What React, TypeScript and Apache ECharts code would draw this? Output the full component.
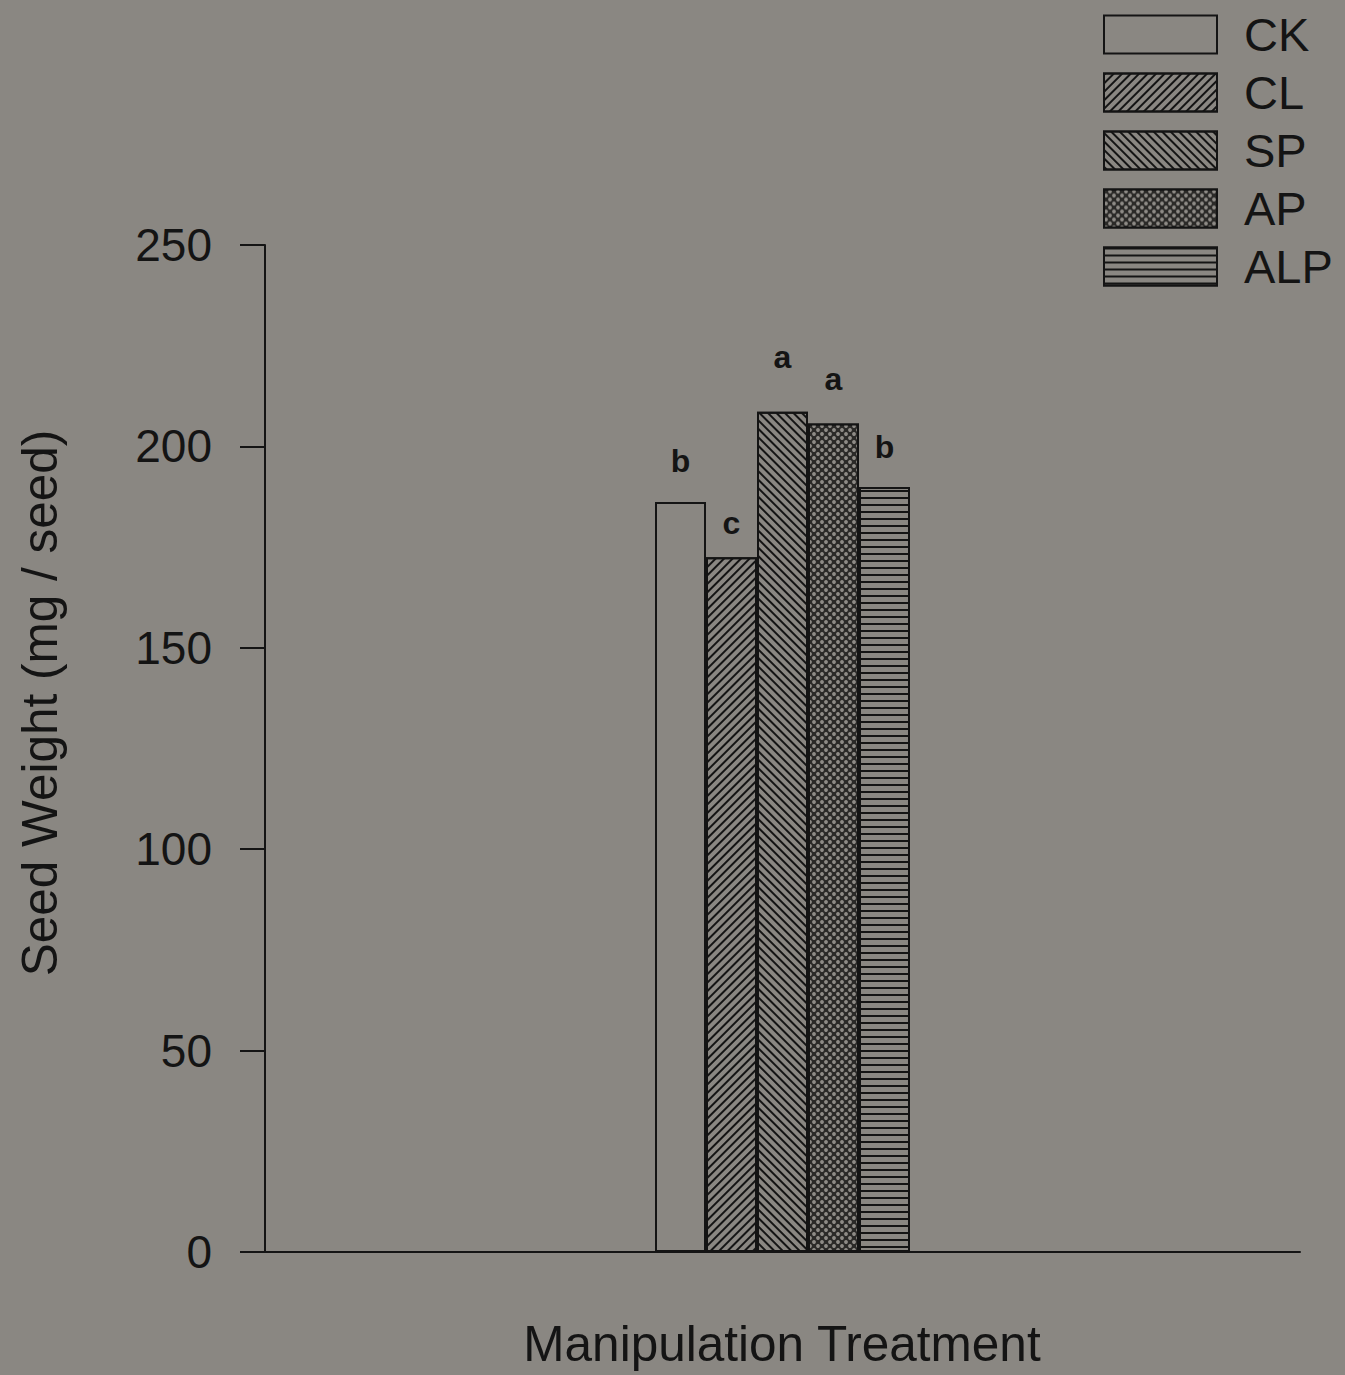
import React, { useEffect, useRef } from "react";
import * as echarts from "echarts";

// Seed weight (mg / seed) per manipulation treatment
const treatments = ["CK", "CL", "SP", "AP", "ALP"];
const seedWeight = [186.2, 172.5, 208.6, 205.7, 189.9];
const significance = ["b", "c", "a", "a", "b"];
const yTicks = { min: 0, max: 250, interval: 50 };

const PAPER = "#8a8782";
const INK = "#141414";
const FONT = "'Liberation Sans', Arial, Helvetica, sans-serif";

// Hatch patterns for each treatment
const fills: Record<string, { color: string; decal?: any; labelGap: number }> = {
  CK: { color: PAPER, labelGap: 25 },
  CL: {
    color: PAPER,
    labelGap: 18,
    decal: {
      symbol: "rect",
      symbolSize: 1,
      color: INK,
      dashArrayX: [1, 0],
      dashArrayY: [2, 3.4],
      rotation: -Math.PI / 4,
    },
  },
  SP: {
    color: PAPER,
    labelGap: 39,
    decal: {
      symbol: "rect",
      symbolSize: 1,
      color: INK,
      dashArrayX: [1, 0],
      dashArrayY: [2, 3.6],
      rotation: Math.PI / 4,
    },
  },
  AP: {
    color: "#2b2a28",
    labelGap: 28,
    decal: {
      symbol: "circle",
      symbolSize: 0.95,
      color: "#8e8b86",
      dashArrayX: [
        [3.5, 3.5],
        [0, 3.5, 3.5, 0],
      ],
      dashArrayY: [3.5, 0],
      rotation: 0,
    },
  },
  ALP: {
    color: PAPER,
    labelGap: 24,
    decal: {
      symbol: "rect",
      symbolSize: 1,
      color: INK,
      dashArrayX: [1, 0],
      dashArrayY: [2, 4.7],
      rotation: 0,
    },
  },
};

export default function App() {
  const ref = useRef<HTMLDivElement>(null);

  useEffect(() => {
    if (!ref.current) return;
    const chart = echarts.init(ref.current, null, { renderer: "svg" });

    const series = treatments.map((name, i) => {
      const f = fills[name];
      return {
        name,
        type: "bar",
        barWidth: 51,
        barGap: "0%",
        data: [seedWeight[i]],
        itemStyle: {
          color: f.color,
          borderColor: INK,
          borderWidth: 2,
          ...(f.decal ? { decal: f.decal } : {}),
        },
        label: {
          show: true,
          position: "top",
          distance: f.labelGap,
          formatter: () => significance[i],
          fontFamily: FONT,
          fontSize: 32,
          fontWeight: "bold",
          color: INK,
        },
      };
    });

    chart.setOption({
      animation: false,
      backgroundColor: PAPER,
      textStyle: { fontFamily: FONT },
      grid: { left: 265, right: 45, top: 245, bottom: 123, containLabel: false },
      legend: {
        orient: "vertical",
        left: 1098,
        top: 6,
        icon: "rect",
        itemWidth: 113,
        itemHeight: 38,
        itemGap: 11,
        itemStyle: { borderColor: INK, borderWidth: 2 },
        textStyle: {
          fontFamily: FONT,
          fontSize: 47,
          color: INK,
          lineHeight: 38,
          padding: [0, 0, 0, 22],
        },
        data: treatments,
      },
      xAxis: {
        type: "category",
        data: [""],
        axisLine: { show: true, lineStyle: { color: INK, width: 2 } },
        axisTick: { show: false },
        axisLabel: { show: false },
        splitLine: { show: false },
      },
      yAxis: {
        type: "value",
        min: yTicks.min,
        max: yTicks.max,
        interval: yTicks.interval,
        axisLine: { show: true, lineStyle: { color: INK, width: 2 } },
        axisTick: { show: true, length: 25, lineStyle: { color: INK, width: 2 } },
        axisLabel: { fontFamily: FONT, fontSize: 46, color: INK, margin: 53 },
        splitLine: { show: false },
      },
      graphic: [
        {
          type: "text",
          x: 39,
          y: 703,
          rotation: Math.PI / 2,
          style: {
            text: "Seed Weight (mg / seed)",
            fontFamily: FONT,
            fontSize: 49.5,
            fill: INK,
            textAlign: "center",
            textVerticalAlign: "middle",
          },
        },
        {
          type: "text",
          x: 782,
          y: 1343,
          style: {
            text: "Manipulation Treatment",
            fontFamily: FONT,
            fontSize: 49.5,
            fill: INK,
            textAlign: "center",
            textVerticalAlign: "middle",
          },
        },
      ],
      series,
    });

    return () => chart.dispose();
  }, []);

  return (
    <div
      ref={ref}
      style={{ position: "fixed", left: 0, top: 0, width: 1345, height: 1375 }}
    />
  );
}
